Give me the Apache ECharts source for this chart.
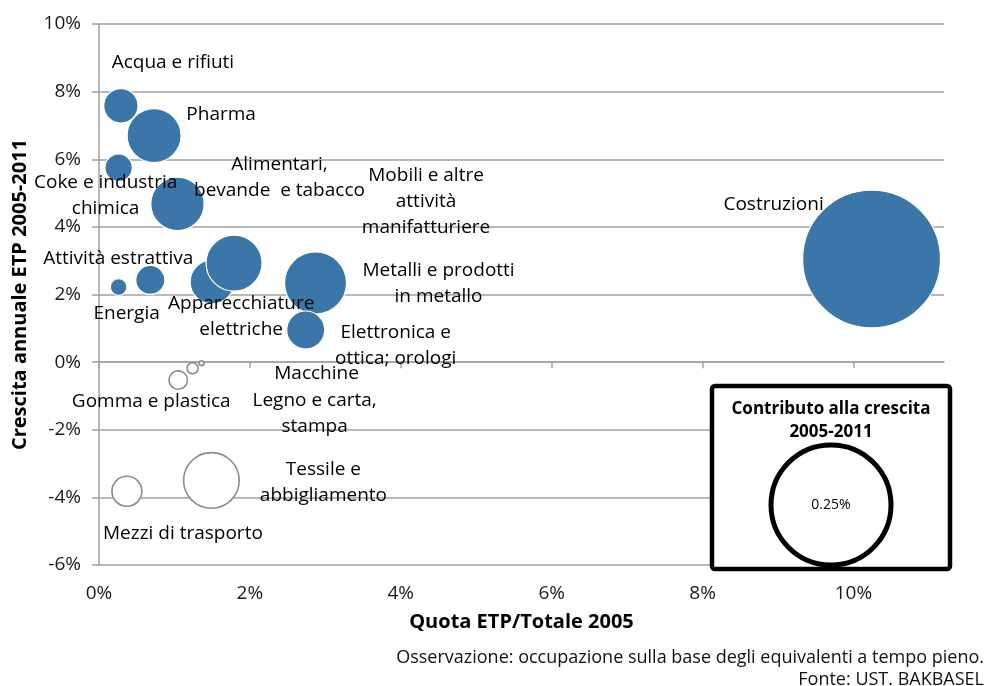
<!DOCTYPE html>
<html>
<head>
<meta charset="utf-8">
<script src="https://cdn.jsdelivr.net/npm/echarts@6/dist/echarts.min.js"></script>
<style>
  html, body { margin: 0; padding: 0; background: #ffffff; }
  #chart { width: 986px; height: 686px; }
</style>
</head>
<body>
<div id="chart"></div>
<script>
// Settori economici (testo delle etichette, con a capo)
const sectors = [
  'Acqua e rifiuti',
  'Pharma',
  'Coke e industria\nchimica',
  'Alimentari,\nbevande  e tabacco',
  'Energia',
  'Attività estrattiva',
  'Apparecchiature\nelettriche',
  'Mobili e altre\nattività\nmanifatturiere',
  'Metalli e prodotti\nin metallo',
  'Elettronica e\nottica; orologi',
  'Costruzioni',
  'Gomma e plastica',
  'Macchine',
  'Legno e carta,\nstampa',
  'Mezzi di trasporto',
  'Tessile e\nabbigliamento'
];
// Quota ETP sul totale 2005 (%)
const quota = [0.29, 0.73, 0.26, 1.04, 0.26, 0.68, 1.50, 1.79, 2.87, 2.74, 10.24, 1.05, 1.24, 1.36, 0.37, 1.49];
// Crescita annuale ETP 2005-2011 (%)
const crescita = [7.58, 6.70, 5.75, 4.68, 2.22, 2.43, 2.37, 2.93, 2.34, 0.95, 3.05, -0.53, -0.18, -0.03, -3.82, -3.50];
// Contributo alla crescita 2005-2011 (punti %), area della bolla
const contributo = [0.0205, 0.0506, 0.013, 0.0495, 0.0048, 0.0146, 0.0336, 0.0544, 0.0667, 0.0251, 0.33, -0.0059, -0.0021, -0.0004, -0.0156, -0.0537];

const xTicks = [0, 2, 4, 6, 8, 10];
const yTicks = [-6, -4, -2, 0, 2, 4, 6, 8, 10];
const legendValue = 0.25;

// Posizione delle etichette rispetto al centro della bolla (px)
const labelOffsets = [
  [52, -43], [67, -21], [-13, 28], [102, -26], [8, 27], [-32, -21], [29, 35],
  [192, -61], [123, 1], [90, 16], [-98, -54], [-27, 22], [124, 5], [113, 50],
  [56, 42], [112, 2]
];

const FONT = '"Open Sans", "Liberation Sans", sans-serif';
const GRID_COLOR = '#a0a0a0';
const BLUE = '#3a76a8';
const REF_RADIUS = 60;   // raggio della bolla di riferimento (0.25%)

function radiusOf(c) {
  return REF_RADIUS * Math.sqrt(Math.abs(c) / legendValue);
}

const data = sectors.map((name, i) => {
  const neg = contributo[i] < 0;
  return {
    name: name,
    value: [quota[i], crescita[i], contributo[i]],
    symbolSize: 2 * radiusOf(contributo[i]),
    itemStyle: neg
      ? { color: '#ffffff', borderColor: '#8c8c8c', borderWidth: 1.6, opacity: 1 }
      : { color: BLUE, borderColor: '#ffffff', borderWidth: 1.2, opacity: 1 },
    label: { offset: labelOffsets[i] }
  };
});

const chart = echarts.init(document.getElementById('chart'), null, { renderer: 'canvas' });

const legendBox = { x: 712, y: 386, w: 238, h: 183 };
const legendR = radiusOf(legendValue);

chart.setOption({
  animation: false,
  backgroundColor: '#ffffff',
  textStyle: { fontFamily: FONT },
  grid: { left: 99, right: 42, top: 24, bottom: 121, containLabel: false },
  xAxis: [
    {
      type: 'value', min: 0, max: 11.2, position: 'bottom',
      axisLine: { show: true, onZero: true, lineStyle: { color: GRID_COLOR, width: 1.5 } },
      axisTick: { show: true, inside: false, length: 6, customValues: xTicks, lineStyle: { color: GRID_COLOR, width: 1.5 } },
      axisLabel: { show: false },
      splitLine: { show: false }
    },
    {
      type: 'value', min: 0, max: 11.2, position: 'bottom',
      axisLine: { show: false, onZero: false },
      axisTick: { show: false },
      splitLine: { show: false },
      axisLabel: {
        customValues: xTicks, margin: 19, fontSize: 19, color: '#1a1a1a', fontFamily: FONT,
        formatter: v => v + '%'
      },
      name: 'Quota ETP/Totale 2005', nameLocation: 'middle', nameGap: 47,
      nameTextStyle: { fontSize: 20, fontWeight: 'bold', color: '#000', fontFamily: FONT }
    }
  ],
  yAxis: {
    type: 'value', min: -6, max: 10, interval: 2,
    axisLine: { show: true, lineStyle: { color: GRID_COLOR, width: 1.5 } },
    axisTick: { show: true, inside: false, length: 7, lineStyle: { color: GRID_COLOR, width: 1.5 } },
    axisLabel: {
      customValues: yTicks, margin: 18, fontSize: 19, color: '#1a1a1a', fontFamily: FONT,
      formatter: v => v + '%'
    },
    splitLine: { show: true, lineStyle: { color: GRID_COLOR, width: 1.5 } },
    name: 'Crescita annuale ETP 2005-2011', nameLocation: 'middle', nameGap: 69,
    nameTextStyle: { fontSize: 20, fontWeight: 'bold', color: '#000', fontFamily: FONT }
  },
  series: [{
    type: 'scatter',
    xAxisIndex: 0,
    symbol: 'circle',
    data: data,
    label: {
      show: true, position: 'inside', formatter: p => p.name,
      fontSize: 19, lineHeight: 26, color: '#000', align: 'center', fontFamily: FONT
    },
    emphasis: { disabled: true }
  }],
  graphic: [
    {
      type: 'rect', z: 100,
      shape: { x: legendBox.x, y: legendBox.y, width: legendBox.w, height: legendBox.h, r: 3 },
      style: { fill: '#ffffff', stroke: '#000000', lineWidth: 4.5 }
    },
    {
      type: 'text', z: 101,
      style: {
        x: legendBox.x + legendBox.w / 2, y: legendBox.y + 12,
        text: 'Contributo alla crescita\n2005-2011', align: 'center', verticalAlign: 'top',
        font: 'bold 17px ' + FONT, lineHeight: 23, fill: '#000'
      }
    },
    {
      type: 'circle', z: 101,
      shape: { cx: legendBox.x + legendBox.w / 2, cy: legendBox.y + legendBox.h - legendR - 4, r: legendR },
      style: { fill: '#ffffff', stroke: '#000000', lineWidth: 5 }
    },
    {
      type: 'text', z: 102,
      style: {
        x: legendBox.x + legendBox.w / 2, y: legendBox.y + legendBox.h - legendR - 4,
        text: legendValue + '%', align: 'center', verticalAlign: 'middle',
        font: '14px ' + FONT, fill: '#000'
      }
    },
    {
      type: 'text',
      style: {
        x: 984, y: 658, text: 'Osservazione: occupazione sulla base degli equivalenti a tempo pieno.',
        align: 'right', verticalAlign: 'middle', font: '18px ' + FONT, fill: '#111'
      }
    },
    {
      type: 'text',
      style: {
        x: 984, y: 680, text: 'Fonte: UST. BAKBASEL',
        align: 'right', verticalAlign: 'middle', font: '18px ' + FONT, fill: '#111'
      }
    }
  ]
});
</script>
</body>
</html>
